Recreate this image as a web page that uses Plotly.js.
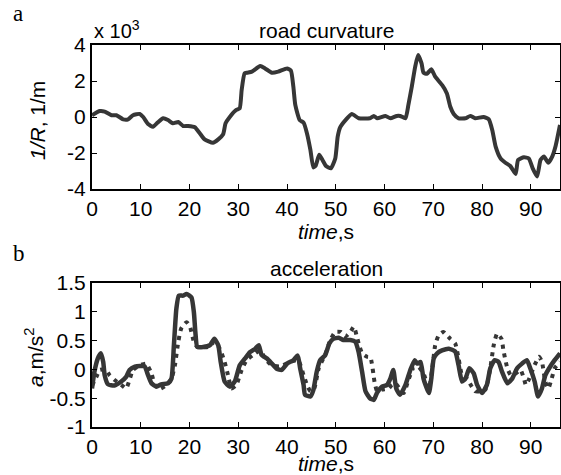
<!DOCTYPE html>
<html><head><meta charset="utf-8">
<script src="https://cdn.plot.ly/plotly-3.0.1.min.js"></script>
<style>html,body{margin:0;padding:0;background:#fff}#plot{width:561px;height:475px}</style>
</head><body><div id="plot"></div>
<script>
// Road curvature (x 10^-3, 1/m)
var curvT = [0, 1.6, 2.6, 4.0, 5.0, 6.4, 7.4, 8.4, 9.8, 10.5, 11.5, 12.5, 13.5, 14.6, 15.6, 16.6, 17.7, 18.7, 19.7, 21.1, 22.1, 23.1, 24.8, 25.9, 26.9, 27.4, 28.3, 29.6, 30.3, 30.7, 31.3, 31.8, 32.8, 34.5, 35.5, 36.9, 38.2, 40.0, 40.8, 41.3, 41.7, 42.6, 43.4, 44.1, 44.8, 45.4, 45.9, 46.6, 47.3, 48.0, 49.0, 49.9, 50.4, 50.9, 52.0, 53.3, 54.7, 57.0, 57.8, 58.5, 60.2, 61.2, 62.5, 63.2, 64.3, 64.9, 65.6, 66.3, 66.9, 67.6, 68.0, 68.7, 69.6, 70.4, 71.8, 72.8, 73.5, 74.2, 75.2, 76.6, 77.6, 78.6, 80.3, 81.4, 82.1, 82.8, 83.8, 84.8, 85.8, 86.9, 87.4, 88.6, 89.6, 90.4, 91.3, 92.0, 92.7, 93.6, 94.4, 95.1, 96.0];
var curvV = [0.1, 0.33, 0.3, 0.1, 0.1, -0.13, -0.13, 0.1, 0.17, 0, -0.39, -0.54, -0.3, -0.07, -0.17, -0.35, -0.28, -0.5, -0.5, -0.57, -0.9, -1.24, -1.43, -1.24, -0.96, -0.35, 0.02, 0.39, 0.48, 1.5, 2.42, 2.46, 2.52, 2.83, 2.7, 2.46, 2.52, 2.7, 2.57, 1.69, 0.67, -0.17, -0.31, -0.91, -1.83, -2.8, -2.7, -2.1, -2.4, -2.72, -2.85, -2.3, -1.09, -0.57, -0.17, 0.17, -0.07, -0.07, 0.06, -0.07, 0.06, -0.07, 0.06, 0.06, -0.07, 0.67, 1.69, 2.8, 3.44, 2.98, 2.46, 2.4, 2.65, 2.24, 1.78, 1.31, 0.57, 0.17, -0.07, -0.07, 0.06, -0.07, 0, -0.13, -0.72, -1.65, -2.3, -2.54, -2.72, -3.17, -2.39, -2.24, -2.3, -2.85, -3.31, -2.39, -2.2, -2.54, -2.2, -1.61, -0.44];

// Acceleration, measured (solid)
var accT = [0, 0.5, 1.2, 1.8, 2.3, 2.6, 3.3, 4.6, 6.0, 7.0, 7.7, 8.8, 9.8, 10.8, 11.5, 12.2, 13.2, 14.2, 15.6, 16.3, 16.8, 17.3, 17.8, 18.7, 19.4, 20.4, 20.9, 21.2, 21.6, 22.8, 24.2, 25.1, 25.9, 26.4, 27.2, 28.3, 29.3, 30.3, 31.4, 32.4, 33.5, 34.2, 34.8, 35.9, 36.9, 37.9, 38.9, 40.0, 41.3, 42.2, 42.7, 43.4, 43.7, 44.8, 45.4, 46.1, 46.8, 47.8, 48.7, 49.5, 50.6, 51.6, 53.0, 54.0, 54.7, 55.4, 56.1, 57.0, 57.8, 58.5, 59.5, 60.5, 61.2, 61.8, 62.4, 63.2, 64.3, 65.3, 66.2, 66.7, 67.4, 68.0, 69.1, 69.6, 70.1, 70.8, 71.8, 73.2, 74.5, 75.2, 75.9, 76.6, 77.4, 78.3, 79.0, 80.0, 81.0, 81.7, 82.6, 83.4, 84.1, 85.2, 86.2, 87.2, 88.2, 89.2, 89.9, 90.8, 91.5, 92.3, 93.0, 94.0, 94.9, 96.0];
var accV = [-0.33, -0.04, 0.19, 0.28, 0.13, -0.1, -0.26, -0.28, -0.21, -0.13, -0.01, 0.05, 0.06, 0.05, -0.1, -0.24, -0.3, -0.26, -0.24, -0.16, 0.42, 1.05, 1.28, 1.28, 1.31, 1.25, 0.99, 0.65, 0.39, 0.39, 0.42, 0.53, 0.42, 0.13, -0.21, -0.3, -0.21, 0.07, 0.19, 0.3, 0.36, 0.42, 0.25, 0.19, 0.1, 0.01, -0.01, 0.1, 0.16, 0.24, 0.02, -0.27, -0.44, -0.47, -0.36, -0.04, 0.16, 0.24, 0.45, 0.53, 0.55, 0.51, 0.51, 0.48, 0.3, -0.04, -0.38, -0.5, -0.53, -0.4, -0.3, -0.27, -0.16, -0.01, -0.33, -0.44, -0.27, -0.01, 0.16, 0.1, 0.13, -0.16, -0.41, -0.16, 0.19, 0.28, 0.33, 0.36, 0.31, 0.07, -0.21, -0.16, 0.02, -0.07, -0.27, -0.41, -0.27, 0.02, 0.16, 0.13, -0.04, -0.24, -0.16, 0.02, 0.1, 0.16, 0.02, -0.21, -0.47, -0.33, -0.1, 0.05, 0.16, 0.28];

// Acceleration, model (dotted)
var dotT = [0, 0.9, 1.6, 2.9, 3.6, 4.6, 6.0, 7.0, 7.7, 8.4, 9.8, 11.1, 12.2, 12.9, 13.9, 15.3, 16.3, 17.0, 17.7, 18.3, 19.4, 20.1, 20.9, 21.6, 23.8, 25.2, 26.2, 27.2, 27.9, 28.6, 29.6, 30.7, 31.7, 33.5, 34.5, 35.5, 36.9, 38.6, 40.6, 42.3, 43.4, 44.1, 44.8, 45.6, 46.5, 47.8, 48.9, 49.9, 51.0, 52.0, 53.0, 53.7, 54.7, 55.4, 56.4, 57.1, 58.0, 58.5, 59.5, 60.9, 61.5, 62.2, 63.9, 65.0, 66.0, 67.0, 68.0, 69.1, 69.8, 70.4, 71.1, 72.1, 73.5, 74.5, 75.2, 75.9, 76.9, 77.9, 78.6, 79.6, 80.7, 81.7, 82.4, 83.1, 84.0, 84.4, 85.2, 85.9, 86.9, 87.9, 88.6, 89.0, 89.6, 90.6, 91.7, 92.3, 93.0, 93.6, 94.3, 94.9, 96.0];
var dotV = [-0.28, -0.13, -0.01, -0.01, -0.1, -0.18, -0.27, -0.33, -0.18, -0.01, 0.07, 0.1, -0.07, -0.27, -0.34, -0.27, -0.16, 0.07, 0.48, 0.71, 0.82, 0.74, 0.48, 0.39, 0.39, 0.48, 0.36, 0.13, -0.1, -0.33, -0.27, -0.01, 0.16, 0.28, 0.33, 0.19, 0.07, 0.05, 0.13, 0.16, -0.1, -0.27, -0.38, -0.33, 0.02, 0.25, 0.51, 0.65, 0.65, 0.57, 0.65, 0.74, 0.45, 0.28, 0.22, 0.21, -0.24, -0.38, -0.35, -0.33, -0.27, -0.24, -0.41, -0.16, 0.04, 0.04, -0.07, -0.33, 0.02, 0.42, 0.59, 0.65, 0.53, 0.45, 0.19, -0.1, -0.16, -0.3, -0.38, -0.38, -0.35, 0.02, 0.42, 0.62, 0.53, 0.33, 0.02, -0.1, -0.07, -0.01, -0.16, -0.27, -0.18, 0.04, 0.22, 0.13, -0.22, -0.33, -0.16, 0.02, 0.13];

// Tick labels
var xTickVals = [0, 10, 20, 30, 40, 50, 60, 70, 80, 90];
var xTickText = ['0', '10', '20', '30', '40', '50', '60', '70', '80', '90'];
var y1TickVals = [-4, -2, 0, 2, 4];
var y1TickText = ['-4', '-2', '0', '2', '4'];
var y2TickVals = [-1, -0.5, 0, 0.5, 1, 1.5];
var y2TickText = ['-1', '-0.5', '0', '0.5', '1', '1.5'];

var lineCol = '#363636';
var FONT = 'Liberation Sans, Arial, sans-serif';
var SERIF = 'Liberation Serif, Times New Roman, serif';
var FS = 21;

var traces = [
  {x: curvT, y: curvV, xaxis: 'x', yaxis: 'y', mode: 'lines', line: {color: lineCol, width: 4, shape: 'spline', smoothing: 0.5}, hoverinfo: 'skip'},
  {x: dotT, y: dotV, xaxis: 'x2', yaxis: 'y2', mode: 'lines', line: {color: lineCol, width: 4, dash: '4px,5px', shape: 'spline', smoothing: 0.5}, hoverinfo: 'skip'},
  {x: accT, y: accV, xaxis: 'x2', yaxis: 'y2', mode: 'lines', line: {color: lineCol, width: 4.5, shape: 'spline', smoothing: 0.5}, hoverinfo: 'skip'}
];

function xax(anchor) {
  return {domain: [0, 1], anchor: anchor, range: [0, 96], tickvals: xTickVals, ticktext: xTickText,
    ticks: 'inside', ticklen: 5, tickwidth: 1, tickcolor: '#000', showline: true, linecolor: '#000', linewidth: 2,
    mirror: 'allticks', showgrid: false, zeroline: false, tickfont: {size: FS, color: '#000'},
    title: {text: '<i>time</i>,s', font: {size: FS, color: '#000'}, standoff: 0}};
}
function yax(anchor, dom, range, tv, tt) {
  return {domain: dom, anchor: anchor, range: range, tickvals: tv, ticktext: tt,
    ticks: 'inside', ticklen: 5, tickwidth: 1, tickcolor: '#000', showline: true, linecolor: '#000', linewidth: 2,
    mirror: 'allticks', showgrid: false, zeroline: false, tickfont: {size: FS, color: '#000'}};
}

var W = 468; // plot width in px
var layout = {
  width: 561, height: 475,
  margin: {l: 92, r: 1, t: 45, b: 48},
  paper_bgcolor: '#fff', plot_bgcolor: '#fff',
  showlegend: false,
  font: {family: FONT, size: FS, color: '#000'},
  xaxis: xax('y'),
  yaxis: yax('x', [0.623, 1], [-4, 4], y1TickVals, y1TickText),
  xaxis2: xax('y2'),
  yaxis2: yax('x2', [0, 0.377], [-1, 1.5], y2TickVals, y2TickText),
  annotations: [
    {text: 'road curvature', xref: 'paper', yref: 'paper', x: 0.5, y: 1, yshift: 1, xanchor: 'center', yanchor: 'bottom', showarrow: false, font: {size: FS}},
    {text: 'acceleration', xref: 'paper', yref: 'paper', x: 0.5, y: 0.377, yshift: 1, xanchor: 'center', yanchor: 'bottom', showarrow: false, font: {size: FS}},
    {text: 'x 10<sup>3</sup>', xref: 'paper', yref: 'paper', x: 0, y: 1, yshift: 1, xanchor: 'left', yanchor: 'bottom', showarrow: false, font: {size: 20}},
    {text: '<i>1/R</i>, 1/m', xref: 'paper', yref: 'paper', x: -55/W, y: 0.8115, yshift: -4, xanchor: 'center', yanchor: 'middle', textangle: -90, showarrow: false, font: {size: FS}},
    {text: '<i>a</i>,m/s<sup>2</sup>', xref: 'paper', yref: 'paper', x: -58/W, y: 0.1885, yshift: -2, xanchor: 'center', yanchor: 'middle', textangle: -90, showarrow: false, font: {size: FS}},
    {text: 'a', xref: 'paper', yref: 'paper', x: -81/W, y: 1, yshift: 17, xanchor: 'left', yanchor: 'bottom', showarrow: false, font: {family: SERIF, size: 23}},
    {text: 'b', xref: 'paper', yref: 'paper', x: -81/W, y: 0.377, yshift: 15, xanchor: 'left', yanchor: 'bottom', showarrow: false, font: {family: SERIF, size: 23}}
  ]
};

Plotly.newPlot('plot', traces, layout, {staticPlot: true, displayModeBar: false});
</script>
</body></html>
